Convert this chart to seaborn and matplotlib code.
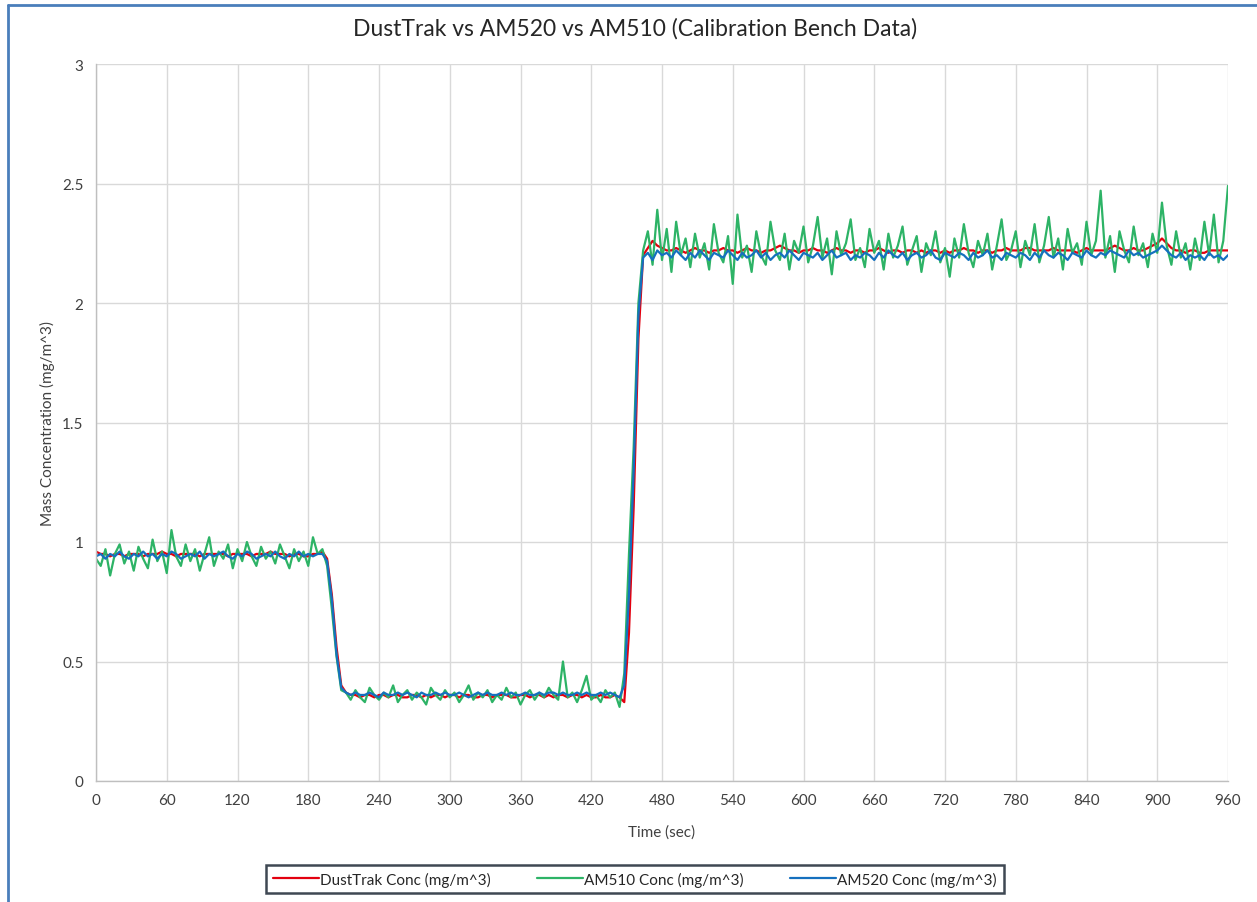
import numpy as np
import pandas as pd
import matplotlib
matplotlib.use("Agg")
import matplotlib.pyplot as plt
import seaborn as sns
from matplotlib.lines import Line2D

# ---------------- data (4 s sampling) ----------------
time_sec = list(range(0, 961, 4))

dusttrak = [
    # 0-192 s
    0.96,0.95,0.95,0.94,0.95,0.95,0.94,0.95,0.95,0.95,
    0.94,0.95,0.95,0.95,0.96,0.95,0.95,0.94,0.95,0.95,
    0.95,0.95,0.94,0.95,0.95,0.95,0.95,0.95,0.94,0.95,
    0.95,0.95,0.95,0.94,0.95,0.95,0.95,0.96,0.95,0.95,
    0.95,0.94,0.95,0.95,0.94,0.94,0.95,0.95,0.96,
    # 196-208 s drop
    0.93,0.78,0.56,0.40,
    # 212-444 s
    0.37,0.36,0.36,0.35,0.36,0.36,0.35,0.36,0.36,0.35,
    0.36,0.36,0.35,0.35,0.36,0.36,0.35,0.36,0.35,0.36,
    0.36,0.35,0.36,0.36,0.35,0.36,0.36,0.35,0.35,0.36,
    0.36,0.35,0.36,0.36,0.36,0.35,0.35,0.36,0.36,0.35,
    0.36,0.36,0.35,0.36,0.35,0.36,0.36,0.35,0.36,0.36,
    0.35,0.36,0.35,0.35,0.36,0.35,0.35,0.36,0.35,
    # 448-460 s rise
    0.33,0.62,1.15,1.85,
    # 464-960 s
    2.20,2.23,2.26,2.24,2.23,2.22,2.22,2.23,2.22,2.21,
    2.22,2.23,2.22,2.22,2.21,2.22,2.22,2.23,2.22,2.22,
    2.21,2.22,2.23,2.22,2.22,2.21,2.22,2.22,2.23,2.24,
    2.23,2.22,2.22,2.21,2.22,2.22,2.23,2.22,2.22,2.21,
    2.22,2.23,2.22,2.22,2.21,2.22,2.22,2.21,2.22,2.22,
    2.23,2.22,2.21,2.22,2.22,2.21,2.22,2.22,2.21,2.22,
    2.21,2.22,2.22,2.21,2.22,2.21,2.22,2.22,2.23,2.22,
    2.22,2.21,2.22,2.22,2.21,2.22,2.22,2.23,2.22,2.22,
    2.22,2.23,2.23,2.22,2.22,2.22,2.22,2.23,2.22,2.22,
    2.22,2.22,2.21,2.22,2.23,2.22,2.22,2.22,2.22,2.23,
    2.24,2.23,2.22,2.22,2.23,2.22,2.22,2.23,2.24,2.25,
    2.27,2.25,2.23,2.22,2.22,2.21,2.22,2.22,2.21,2.21,
    2.22,2.22,2.22,2.22,2.22,
]

am510 = [
    0.93,0.90,0.97,0.86,0.95,0.99,0.91,0.96,0.88,0.98,
    0.93,0.89,1.01,0.92,0.96,0.87,1.05,0.94,0.90,0.99,
    0.92,0.97,0.88,0.95,1.02,0.90,0.96,0.93,0.99,0.89,
    0.97,0.92,1.00,0.94,0.90,0.98,0.93,0.96,0.91,0.99,
    0.94,0.89,0.97,0.92,0.96,0.90,1.02,0.95,0.97,
    0.90,0.72,0.52,0.38,
    0.37,0.34,0.38,0.35,0.33,0.39,0.36,0.34,0.37,0.35,
    0.40,0.33,0.36,0.38,0.34,0.37,0.35,0.32,0.39,0.36,
    0.34,0.38,0.35,0.37,0.33,0.36,0.40,0.34,0.37,0.35,
    0.38,0.33,0.36,0.34,0.39,0.35,0.37,0.32,0.36,0.38,
    0.34,0.37,0.35,0.39,0.36,0.34,0.50,0.35,0.37,0.33,
    0.38,0.44,0.34,0.36,0.33,0.38,0.35,0.37,0.31,
    0.45,0.95,1.40,2.00,
    2.22,2.30,2.16,2.39,2.18,2.31,2.13,2.34,2.20,2.27,
    2.15,2.29,2.19,2.25,2.14,2.33,2.21,2.17,2.28,2.08,
    2.37,2.19,2.24,2.13,2.30,2.20,2.16,2.34,2.22,2.18,
    2.29,2.14,2.26,2.21,2.32,2.17,2.24,2.36,2.19,2.27,
    2.12,2.30,2.20,2.25,2.35,2.18,2.23,2.15,2.31,2.21,
    2.26,2.14,2.29,2.19,2.24,2.32,2.16,2.22,2.28,2.13,
    2.25,2.20,2.30,2.17,2.23,2.11,2.27,2.19,2.33,2.21,
    2.15,2.26,2.20,2.29,2.14,2.24,2.35,2.18,2.22,2.30,
    2.15,2.26,2.20,2.33,2.17,2.24,2.36,2.19,2.27,2.14,
    2.31,2.21,2.25,2.16,2.34,2.20,2.26,2.47,2.19,2.28,
    2.13,2.30,2.22,2.17,2.32,2.20,2.25,2.15,2.29,2.21,
    2.42,2.24,2.16,2.30,2.19,2.25,2.14,2.27,2.18,2.34,
    2.20,2.37,2.17,2.26,2.49,
]

am520 = [
    0.94,0.95,0.93,0.95,0.94,0.96,0.94,0.93,0.95,0.94,
    0.96,0.94,0.95,0.93,0.95,0.94,0.96,0.95,0.93,0.94,
    0.95,0.94,0.96,0.93,0.95,0.94,0.95,0.96,0.94,0.93,
    0.95,0.94,0.96,0.95,0.93,0.94,0.95,0.94,0.96,0.94,
    0.93,0.95,0.94,0.96,0.94,0.95,0.94,0.95,0.95,
    0.92,0.76,0.53,0.39,
    0.37,0.36,0.37,0.36,0.36,0.37,0.36,0.35,0.37,0.36,
    0.36,0.37,0.36,0.37,0.36,0.35,0.37,0.36,0.36,0.37,
    0.36,0.37,0.36,0.36,0.37,0.36,0.35,0.36,0.37,0.36,
    0.37,0.36,0.36,0.37,0.36,0.37,0.36,0.36,0.37,0.36,
    0.36,0.37,0.36,0.37,0.37,0.36,0.37,0.36,0.36,0.37,
    0.36,0.37,0.36,0.36,0.37,0.36,0.37,0.36,0.35,
    0.40,0.78,1.30,1.95,
    2.19,2.21,2.18,2.22,2.20,2.21,2.19,2.22,2.20,2.18,
    2.21,2.19,2.22,2.20,2.18,2.21,2.20,2.19,2.22,2.20,
    2.18,2.21,2.19,2.20,2.22,2.19,2.21,2.18,2.20,2.21,
    2.19,2.22,2.20,2.18,2.21,2.20,2.19,2.21,2.18,2.20,
    2.22,2.19,2.20,2.21,2.18,2.20,2.19,2.21,2.20,2.18,
    2.21,2.19,2.22,2.20,2.19,2.21,2.18,2.20,2.21,2.19,
    2.20,2.22,2.19,2.18,2.21,2.20,2.19,2.21,2.20,2.18,
    2.21,2.19,2.20,2.22,2.19,2.20,2.18,2.21,2.20,2.19,
    2.21,2.20,2.18,2.21,2.19,2.22,2.20,2.19,2.21,2.20,
    2.18,2.21,2.20,2.19,2.22,2.20,2.19,2.21,2.20,2.22,
    2.21,2.20,2.19,2.22,2.20,2.21,2.19,2.20,2.21,2.22,
    2.24,2.22,2.20,2.19,2.21,2.18,2.20,2.19,2.20,2.18,
    2.21,2.19,2.20,2.18,2.20,
]

series_names = ["DustTrak Conc (mg/m^3)", "AM510 Conc (mg/m^3)", "AM520 Conc (mg/m^3)"]
series_colors = ["#E3000F", "#2DB366", "#1570BE"]
x_ticks = list(range(0, 961, 60))
y_ticks = [0, 0.5, 1, 1.5, 2, 2.5, 3]
y_tick_labels = ["0", "0.5", "1", "1.5", "2", "2.5", "3"]

assert len(dusttrak) == len(time_sec) == len(am510) == len(am520)

df = pd.concat([
    pd.DataFrame({"t": time_sec, "v": vals, "s": name})
    for name, vals in zip(series_names, [dusttrak, am510, am520])
])

# ---------------- plot ----------------
sns.set_theme(style="white")
plt.rcParams["font.family"] = ["Lato", "DejaVu Sans"]

fig = plt.figure(figsize=(12.57, 9.03), dpi=100)
ax = fig.add_axes([96/1257, 121/903, 1132/1257, 717/903])

palette = dict(zip(series_names, series_colors))
sns.lineplot(data=df, x="t", y="v", hue="s", hue_order=series_names,
             palette=palette, linewidth=1.6, ax=ax, legend=False, sort=False)

ax.set_xlim(0, 960)
ax.set_ylim(0, 3)
ax.set_xticks(x_ticks)
ax.set_yticks(y_ticks)
ax.set_yticklabels(y_tick_labels)
ax.grid(True, color="#D9D9D9", linewidth=1.0)
ax.set_axisbelow(True)
for side in ["top", "right"]:
    ax.spines[side].set_visible(False)
for side in ["left", "bottom"]:
    ax.spines[side].set_color("#BFBFBF")
    ax.spines[side].set_linewidth(1.0)
ax.tick_params(axis="both", length=0, labelsize=11, colors="#404040", pad=9)
ax.set_xlabel("Time (sec)", fontsize=11, color="#404040", labelpad=12)
ax.set_ylabel("Mass Concentration (mg/m^3)", fontsize=11, color="#404040", labelpad=5)

fig.text(635/1257, 1 - 29/903, "DustTrak vs AM520 vs AM510 (Calibration Bench Data)",
         ha="center", va="center", fontsize=16.5, color="#262626")

handles = [Line2D([], [], color=c, linewidth=1.6) for c in series_colors]
leg = fig.legend(handles, series_names, loc="center", ncol=3,
                 bbox_to_anchor=(635/1257, 1 - 880/903), frameon=True,
                 fontsize=11, handlelength=3.0, columnspacing=3.0,
                 handletextpad=0.1, borderpad=0.45, fancybox=False)
leg.get_frame().set_edgecolor("#0F1A28")
leg.get_frame().set_linewidth(1.8)
for t in leg.get_texts():
    t.set_color("#262626")

# figure border (blue at top and left)
fig.add_artist(Line2D([8/1257, 1], [1 - 6/903, 1 - 6/903], transform=fig.transFigure,
                      color="#4A7EBB", linewidth=2.0))
fig.add_artist(Line2D([8/1257, 8/1257], [0, 1 - 6/903], transform=fig.transFigure,
                      color="#4A7EBB", linewidth=2.0))

fig.savefig("out.png", dpi=100, facecolor="white")
